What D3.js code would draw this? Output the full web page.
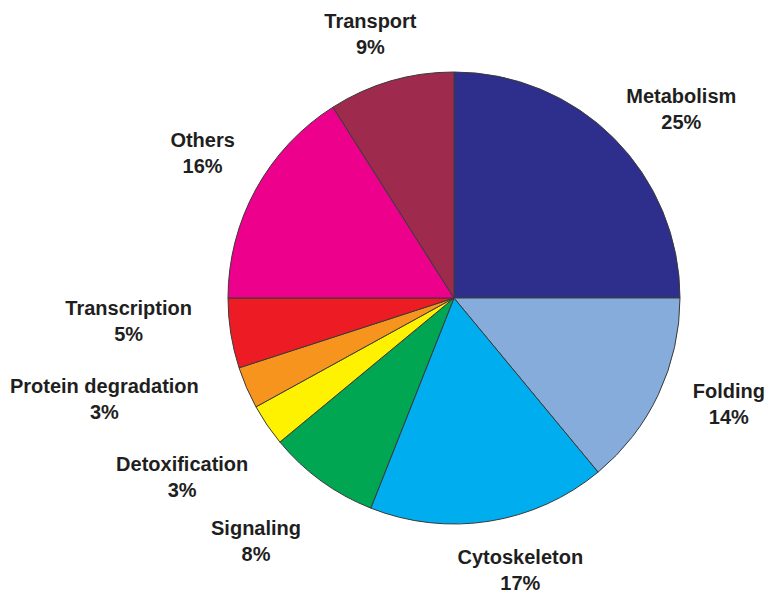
<!DOCTYPE html>
<html>
<head>
<meta charset="utf-8">
<script src="https://cdn.jsdelivr.net/npm/d3@7/dist/d3.min.js"></script>
<style>
  html, body { margin: 0; padding: 0; background: #ffffff; }
  svg { display: block; }
  .lbl { font-family: "Liberation Sans", Arial, sans-serif; font-weight: bold; font-size: 20px; fill: #1f1f1f; }
</style>
</head>
<body>
<svg id="chart" width="768" height="596"></svg>
<script>
// Functional categories of identified proteins (percent of total), clockwise from 12 o'clock
const categories = ["Metabolism", "Folding", "Cytoskeleton", "Signaling", "Detoxification",
                    "Protein degradation", "Transcription", "Others", "Transport"];
const percents = [25, 14, 17, 8, 3, 3, 5, 16, 9];
const sliceColors = ["#2e2e8c", "#85acdb", "#00aeef", "#00a651", "#fff200",
                     "#f7941d", "#ed1c24", "#ec008c", "#9e2a4e"];

// Layout
const width = 768, height = 596;
const cx = 454, cy = 298, radius = 226;
const labelRadius = 296;
// Per-label nudges so the text blocks sit clear of neighbouring labels
const labelNudge = {
  "Metabolism": [18, 20],
  "Folding": [7, -20],
  "Cytoskeleton": [20, -20],
  "Signaling": [-24, 4],
  "Detoxification": [-27, 13],
  "Protein degradation": [-78, -17],
  "Transcription": [-33, -23],
  "Others": [8, -2],
  "Transport": [-1, 20]
};

const data = categories.map((c, i) => ({ name: c, value: percents[i], color: sliceColors[i] }));

const svg = d3.select("#chart");
const g = svg.append("g").attr("transform", `translate(${cx},${cy})`);

const pie = d3.pie().value(d => d.value).sort(null).startAngle(0).endAngle(2 * Math.PI);
const arc = d3.arc().innerRadius(0).outerRadius(radius);
const labelArc = d3.arc().innerRadius(labelRadius).outerRadius(labelRadius);

const arcs = pie(data);

g.selectAll("path.slice")
  .data(arcs)
  .enter()
  .append("path")
  .attr("class", "slice")
  .attr("d", arc)
  .attr("fill", d => d.data.color)
  .attr("stroke", "#3a3a3a")
  .attr("stroke-width", 1)
  .attr("stroke-linejoin", "round");

const labels = g.selectAll("g.label")
  .data(arcs)
  .enter()
  .append("g")
  .attr("class", "label")
  .attr("transform", d => {
    const [x, y] = labelArc.centroid(d);
    const [nx, ny] = labelNudge[d.data.name] || [0, 0];
    return `translate(${x + nx},${y + ny})`;
  });

labels.append("text")
  .attr("class", "lbl")
  .attr("text-anchor", "middle")
  .attr("y", -6)
  .text(d => d.data.name);

labels.append("text")
  .attr("class", "lbl")
  .attr("text-anchor", "middle")
  .attr("y", 20)
  .text(d => d.data.value + "%");
</script>
</body>
</html>
